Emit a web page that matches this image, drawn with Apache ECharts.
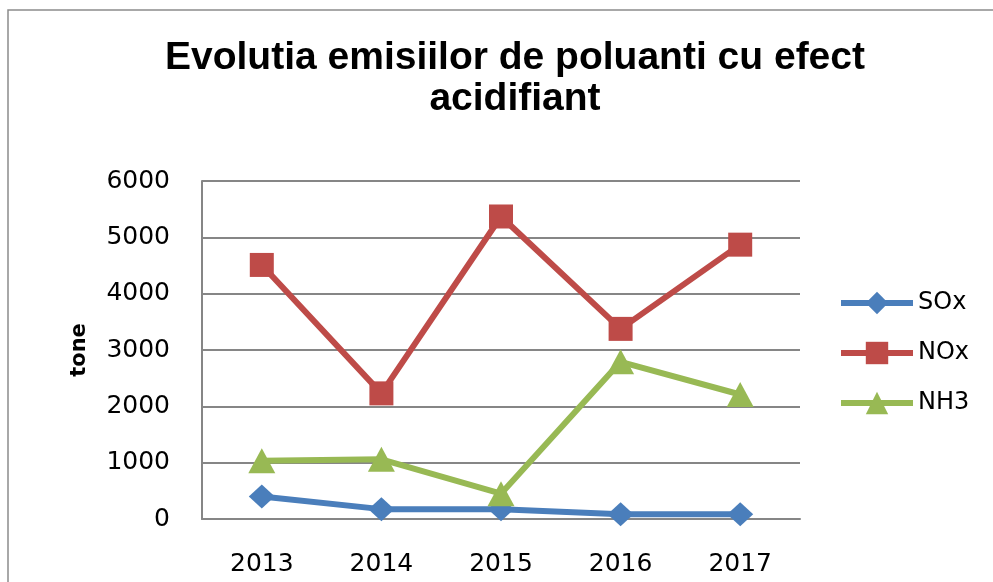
<!DOCTYPE html>
<html>
<head>
    <meta charset="utf-8">
    <title>Evolutia emisiilor de poluanti cu efect acidifiant</title>
    <script src="https://cdn.jsdelivr.net/npm/echarts/dist/echarts.min.js"></script>
</head>
<body style="margin:0;background:#fff;">
<div id="chart-container" style="width: 993px; height: 582px;"></div>
<script>
    // date
    var years = ['2013', '2014', '2015', '2016', '2017'];
    var soxData = [400, 175, 175, 85, 85];
    var noxData = [4510, 2230, 5370, 3375, 4870];
    var nh3Data = [1035, 1060, 450, 2790, 2210];
    var yTicks = [0, 1000, 2000, 3000, 4000, 5000, 6000];

    var labelFont = 'DejaVu Sans';

    var option1 = {
        backgroundColor: '#ffffff',
        animation: false,
        title: {
            text: 'Evolutia emisiilor de poluanti cu efect\nacidifiant',
            left: 510,
            textAlign: 'center',
            top: 33,
            textStyle: {
                fontFamily: 'Liberation Sans',
                fontWeight: 'bold',
                fontSize: 39,
                lineHeight: 41,
                color: '#000'
            }
        },
        graphic: [{
            type: 'rect',
            shape: { x: 8, y: 10, width: 1000, height: 600 },
            style: { fill: 'none', stroke: '#8c8c8c', lineWidth: 1.5 },
            silent: true
        }],
        legend: {
            orient: 'vertical',
            left: 833,
            top: 286,
            itemWidth: 72,
            itemHeight: 28,
            itemGap: 26,
            lineStyle: { width: 6 },
            textStyle: { fontFamily: labelFont, fontSize: 24, color: '#000', padding: [0, 0, 0, 0] },
            data: ['SOx', 'NOx', 'NH3']
        },
        grid: { left: 202, right: 193, top: 181, bottom: 63 },
        xAxis: {
            type: 'category',
            data: years,
            boundaryGap: true,
            axisLine: { lineStyle: { color: '#868686', width: 2 } },
            axisTick: { show: false },
            axisLabel: { fontFamily: labelFont, fontSize: 25, color: '#000', margin: 33 }
        },
        yAxis: {
            type: 'value',
            min: yTicks[0],
            max: yTicks[yTicks.length - 1],
            interval: 1000,
            name: 'tone',
            nameLocation: 'middle',
            nameRotate: 90,
            nameGap: 112,
            nameTextStyle: { fontFamily: labelFont, fontWeight: 'bold', fontSize: 21, color: '#000' },
            axisLine: { show: true, lineStyle: { color: '#868686', width: 2 } },
            axisTick: { show: false },
            splitLine: { lineStyle: { color: '#868686', width: 2 } },
            axisLabel: {
                fontFamily: labelFont, fontSize: 25, color: '#000', margin: 32,
                formatter: function (v) { return String(v); }
            }
        },
        series: [
            {
                name: 'SOx',
                type: 'line',
                symbol: 'diamond',
                symbolSize: [26, 24],
                lineStyle: { width: 6, color: '#4A7EBB' },
                itemStyle: { color: '#4A7EBB' },
                data: soxData
            },
            {
                name: 'NOx',
                type: 'line',
                symbol: 'rect',
                symbolSize: 24,
                lineStyle: { width: 6, color: '#BE4B48' },
                itemStyle: { color: '#BE4B48' },
                data: noxData
            },
            {
                name: 'NH3',
                type: 'line',
                symbol: 'triangle',
                symbolSize: [27, 25],
                lineStyle: { width: 6, color: '#98B954' },
                itemStyle: { color: '#98B954' },
                data: nh3Data
            }
        ]
    };

    var chart = echarts.init(document.getElementById('chart-container'));
    chart.setOption(option1);
</script>
</body>
</html>
